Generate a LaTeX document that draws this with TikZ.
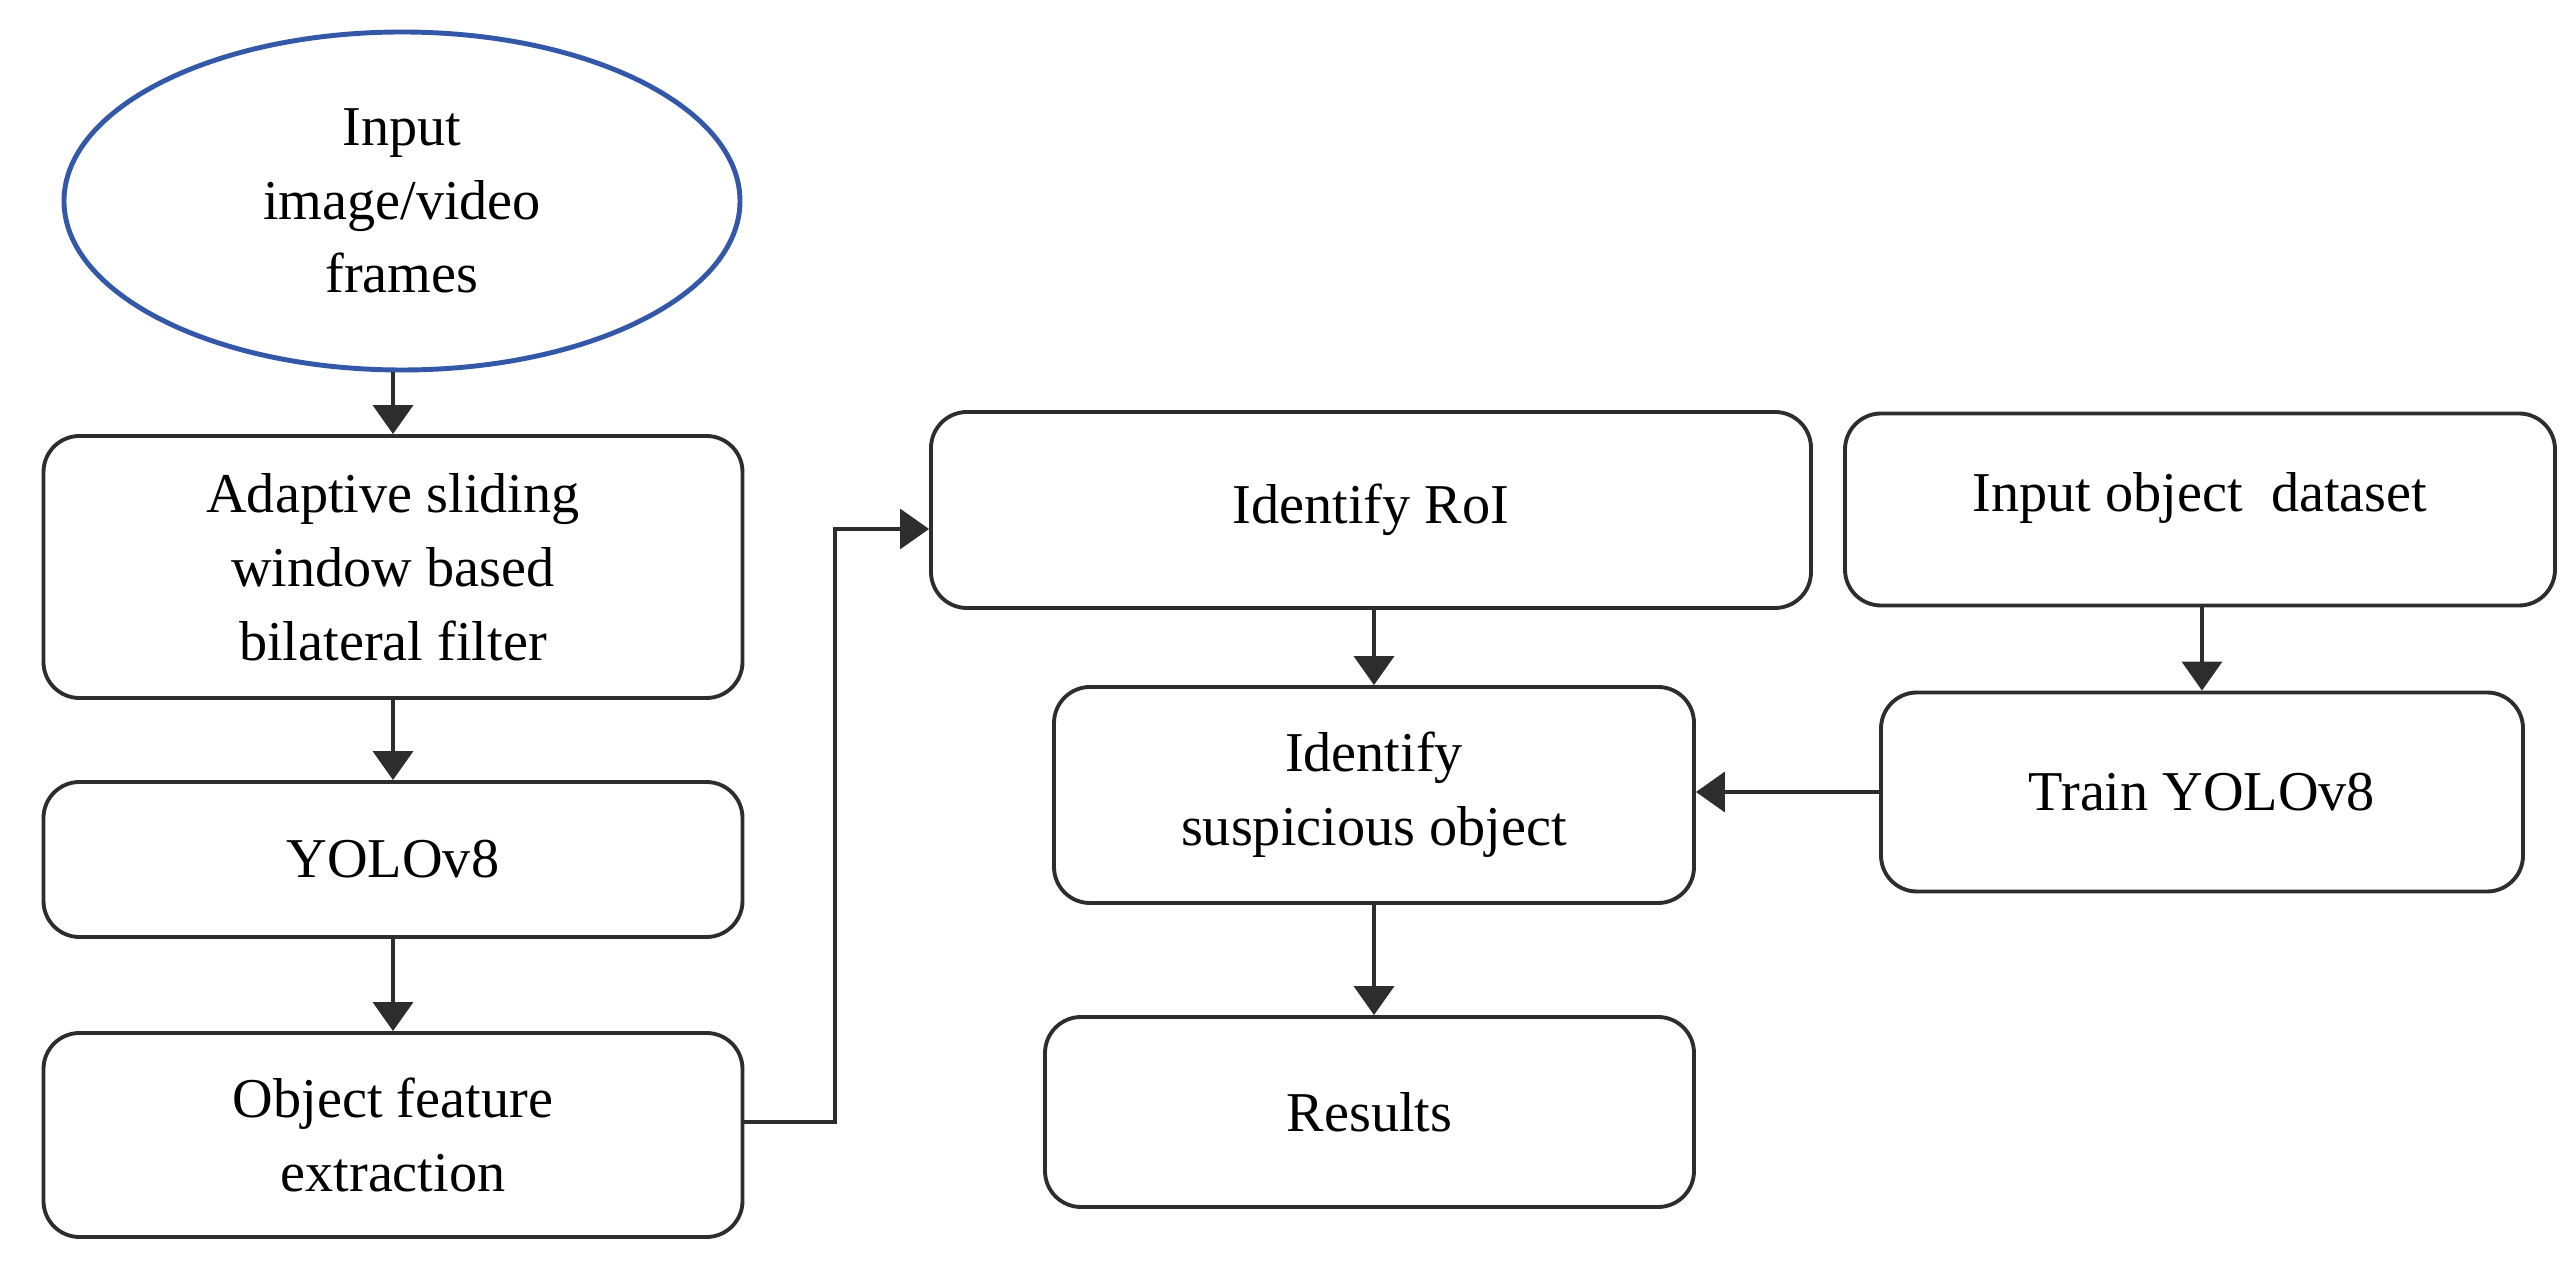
\documentclass[tikz,border=0pt]{standalone}
\usepackage{fontspec}
\setmainfont{Liberation Serif}
\usepackage{xcolor}
\usepackage{tikz}
\usetikzlibrary{arrows.meta, shapes.geometric, positioning}
\definecolor{ovalblue}{RGB}{52,88,168}
\definecolor{linegray}{RGB}{45,45,45}

\begin{document}
\begin{tikzpicture}[
      font=\fontsize{16}{21}\selectfont,
      block/.style={draw=linegray, line width=1.1pt, rounded corners=0.36cm, align=center, inner sep=0pt},
      oval/.style={draw=ovalblue, ellipse, line width=1.4pt, align=center, minimum width=6.76cm, minimum height=3.38cm},
      arrow/.style={-{Triangle[length=0.29cm, width=0.4cm]}, draw=linegray, line width=1.1pt}
    ]
      \useasboundingbox (0,0) rectangle (25.74,-12.71);

      \node[oval] (input) at (4.02,-2.01) {Input\\image/video\\frames};
      \node[block, minimum width=6.99cm, minimum height=2.62cm] (filter) at (3.93,-5.67) {Adaptive sliding\\window based\\bilateral filter};
      \node[block, minimum width=6.99cm, minimum height=1.55cm] (yolo) at (3.93,-8.595) {YOLOv8};
      \node[block, minimum width=6.99cm, minimum height=2.04cm] (feature) at (3.93,-11.35) {Object feature\\extraction};

      \node[block, minimum width=8.80cm, minimum height=1.96cm] (roi) at (13.71,-5.10) {Identify RoI};
      \node[block, minimum width=7.10cm, minimum height=1.92cm, text depth=0.35cm] (dataset) at (22.00,-5.095) {Input object\ \ dataset};
      \node[block, minimum width=6.40cm, minimum height=2.16cm] (suspicious) at (13.74,-7.95) {Identify\\suspicious object};
      \node[block, minimum width=6.42cm, minimum height=1.99cm] (train) at (22.02,-7.92) {Train YOLOv8};
      \node[block, minimum width=6.49cm, minimum height=1.90cm] (results) at (13.695,-11.12) {Results};

      \coordinate (bend) at (8.35,-5.29);

      \draw[arrow] (filter.north |- input.south) -- (filter.north);
      \draw[arrow] (filter) -- (yolo);
      \draw[arrow] (yolo) -- (feature);
      \draw[arrow, line width=0.9pt] ([yshift=0.13cm]feature.east) -| (bend) -- (bend -| roi.west);
      \draw[arrow] (roi.south -| suspicious.north) -- (suspicious.north);
      \draw[arrow] (dataset.south -| train.north) -- (train.north);
      \draw[arrow] (train.west) -- (train.west -| suspicious.east);
      \draw[arrow] (suspicious) -- (suspicious.south |- results.north);
    \end{tikzpicture}
\end{document}
